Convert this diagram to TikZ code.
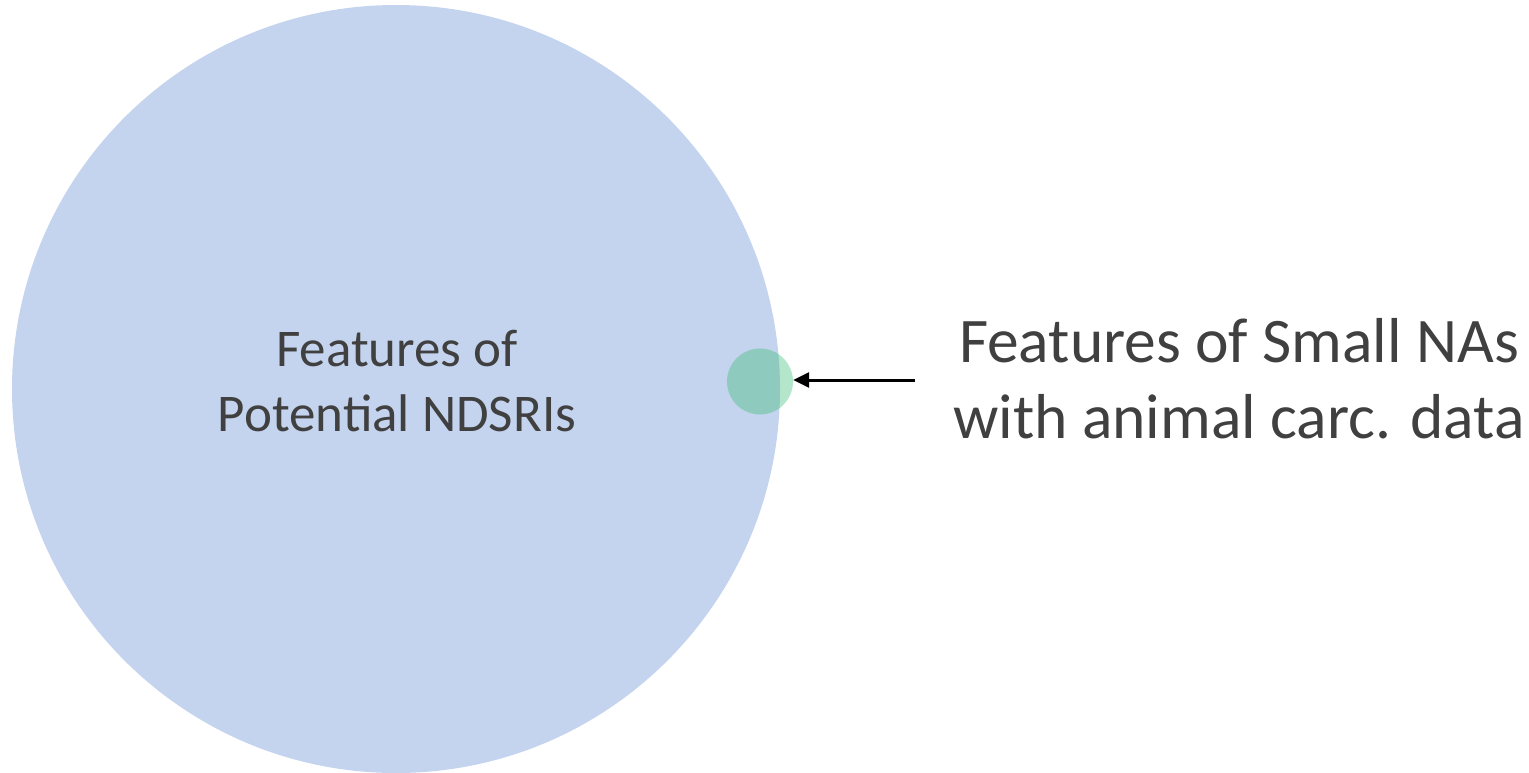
\documentclass[tikz,border=0pt]{standalone}
\usepackage{fontspec}
\setmainfont{Carlito}
\usetikzlibrary{arrows.meta}
\definecolor{bigblue}{RGB}{197,212,238}
\definecolor{smallgreen}{RGB}{50,187,110}
\definecolor{txt}{RGB}{64,64,64}
\tikzset{
  bigcirc/.style={circle, fill=bigblue, draw=none, minimum size=768pt, inner sep=0pt},
  smallcirc/.style={circle, fill=smallgreen, fill opacity=0.37, draw=none, minimum size=66pt, inner sep=0pt},
  bigtext/.style={text=txt, align=center, font=\fontsize{53}{64.5}\selectfont, inner sep=0pt},
  sidetext/.style={text=txt, align=center, font=\fontsize{63.5}{76}\selectfont, inner sep=0pt},
  pointer/.style={draw=black, line width=3pt, -{Triangle[length=16pt,width=15pt]}}
}
\begin{document}
\begin{tikzpicture}[x=1pt,y=1pt]
\useasboundingbox (0,0) rectangle (1529,-772);
\node[bigcirc] (big) at (396,-389) {};
\node[smallcirc] (small) at (760,-381.5) {};
\node[bigtext, anchor=base] (bigl) at (397,-431) {Features of\\Potential NDSRIs};
\node[sidetext, anchor=base] (side) at (1239,-438) {Features of Small NAs\\with animal carc. data};
\coordinate (tail) at (915,-380);
\draw[pointer] (tail) -- (tail -| small.east);
\end{tikzpicture}
\end{document}
